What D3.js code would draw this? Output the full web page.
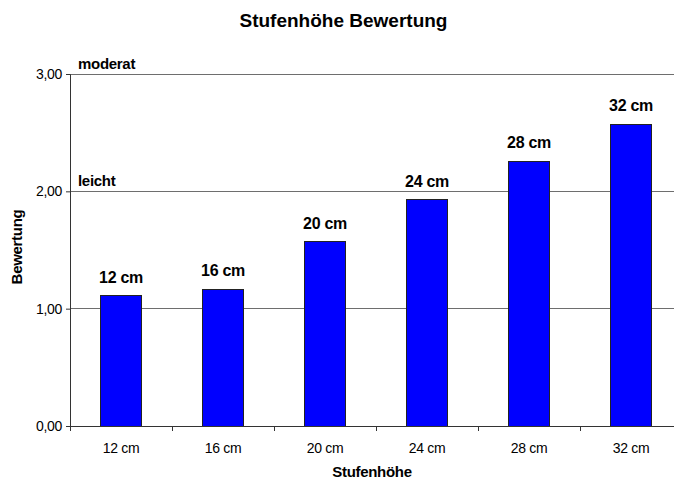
<!DOCTYPE html>
<html><head><meta charset="utf-8">
<script src="https://cdn.jsdelivr.net/npm/d3@7"></script>
<style>body{margin:0;background:#fff}svg{display:block;font-family:"Liberation Sans",Arial,sans-serif}</style>
</head><body><svg id="c" width="674" height="486"></svg>
<script>
const categories = ["12 cm","16 cm","20 cm","24 cm","28 cm","32 cm"];
const values = [1.11, 1.165, 1.57, 1.93, 2.255, 2.57];
const barLabels = ["12 cm","16 cm","20 cm","24 cm","28 cm","32 cm"];
const yTicks = [0,1,2,3];
const levelLabels = [{v:3,t:"moderat"},{v:2,t:"leicht"}];

const svg = d3.select("#c");
const L=70, R=682, T=74, B=426;
const x = d3.scaleBand().domain(categories).range([L,R]).paddingInner(0.6).paddingOuter(0.3);
const y = d3.scaleLinear().domain([0,3]).range([B,T]);
const fmt = v => d3.format(".2f")(v).replace(".",",");

// gridlines
svg.append("g").selectAll("line").data(yTicks.filter(d=>d>0)).join("line")
  .attr("x1",L).attr("x2",R).attr("y1",d=>y(d)).attr("y2",d=>y(d))
  .attr("stroke","#6e6e6e").attr("stroke-width",1).attr("shape-rendering","crispEdges");

// bars
svg.append("g").selectAll("rect").data(values).join("rect")
  .attr("x",(d,i)=>x(categories[i])).attr("width",x.bandwidth())
  .attr("y",d=>y(d)).attr("height",d=>B-y(d))
  .attr("fill","#0000ff").attr("stroke","#222").attr("stroke-width",1).attr("shape-rendering","crispEdges");

// bar labels
svg.append("g").selectAll("text").data(values).join("text")
  .attr("x",(d,i)=>x(categories[i])+x.bandwidth()/2).attr("y",d=>y(d)-13)
  .attr("text-anchor","middle").attr("font-weight","bold").attr("font-size",16).attr("letter-spacing",-0.3)
  .text((d,i)=>barLabels[i]);

// y axis
const ya = svg.append("g").attr("transform",`translate(${L},0)`)
  .call(d3.axisLeft(y).tickValues(yTicks).tickFormat(fmt).tickSize(4).tickPadding(4));
ya.select(".domain").attr("stroke","#333");
ya.selectAll(".tick line").attr("stroke","#333");
ya.selectAll(".tick text").attr("font-size",14).attr("fill","#000").attr("font-family","Liberation Sans, Arial, sans-serif").attr("letter-spacing",-0.3);

// x axis
const xEdges = d3.scaleLinear().domain([0,categories.length]).range([L,R]);
const xa = svg.append("g").attr("transform",`translate(0,${B})`);
xa.append("line").attr("x1",L-4).attr("x2",R).attr("stroke","#333").attr("shape-rendering","crispEdges");
xa.selectAll(".tk").data(d3.range(categories.length+1)).join("line").attr("class","tk")
  .attr("x1",d=>xEdges(d)).attr("x2",d=>xEdges(d)).attr("y1",0).attr("y2",5).attr("stroke","#333").attr("shape-rendering","crispEdges");
xa.selectAll("text").data(categories).join("text")
  .attr("x",d=>x(d)+x.bandwidth()/2).attr("y",27).attr("text-anchor","middle")
  .attr("font-size",14).attr("letter-spacing",-0.3).text(d=>d);

// level labels
svg.append("g").selectAll("text").data(levelLabels).join("text")
  .attr("x",L+8).attr("y",d=>y(d.v)-5).attr("font-weight","bold").attr("font-size",15).attr("letter-spacing",-0.3)
  .text(d=>d.t);

// title
svg.append("text").attr("x",343.5).attr("y",27).attr("text-anchor","middle").attr("font-weight","bold")
  .attr("font-size",19).text("Stufenhöhe Bewertung");
// axis titles
svg.append("text").attr("x",(L+R-8)/2).attr("y",477).attr("text-anchor","middle").attr("font-weight","bold")
  .attr("font-size",15).attr("letter-spacing",-0.3).text("Stufenhöhe");
svg.append("text").attr("transform","translate(22,247) rotate(-90)").attr("text-anchor","middle").attr("font-weight","bold")
  .attr("font-size",15).attr("letter-spacing",-0.3).text("Bewertung");
</script></body></html>
